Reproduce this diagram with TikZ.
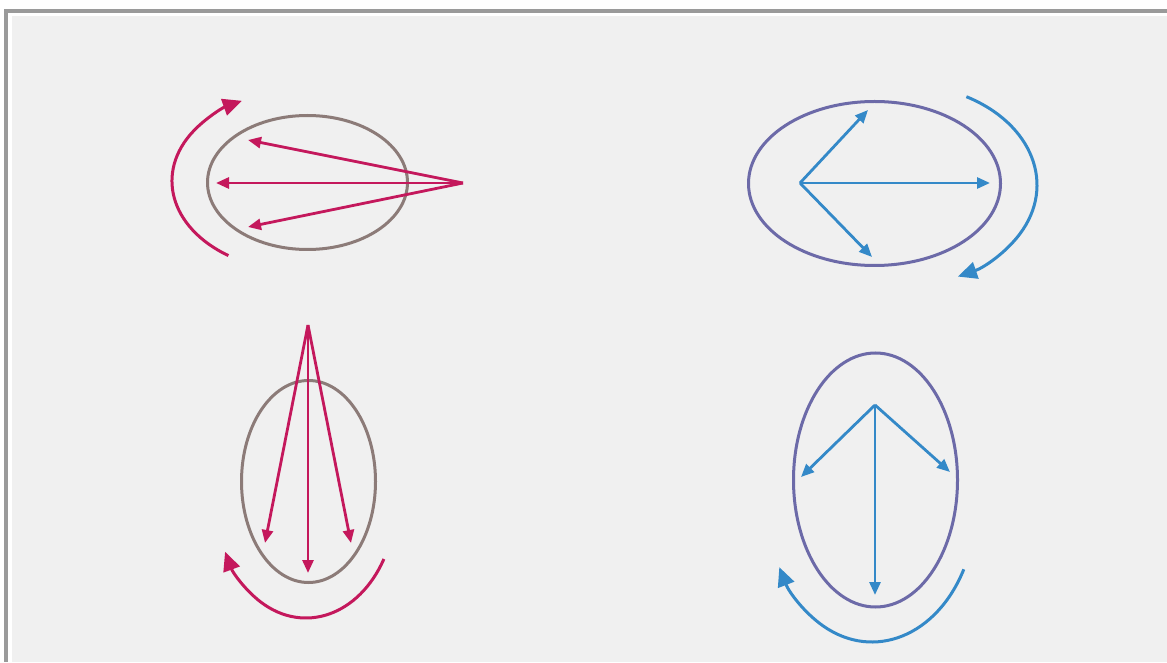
\documentclass[tikz,border=0pt]{standalone}
\usetikzlibrary{arrows.meta}
\definecolor{bgc}{HTML}{F0F0F0}
\definecolor{framec}{HTML}{9A9A9A}
\definecolor{crim}{HTML}{C4185C}
\definecolor{blu}{HTML}{3489C8}
\definecolor{brn}{HTML}{8C7B78}
\definecolor{pur}{HTML}{6C6AA8}
\begin{document}
\begin{tikzpicture}[x=1pt,y=1pt,
  ring/.style={line width=3pt},
  ray/.style={line width=2.8pt,-{Triangle[length=13pt,width=11pt]}},
  turn/.style={line width=3pt,-{Triangle[length=19pt,width=17pt]}}]
\useasboundingbox (0,0) rectangle (1167,662);
\fill[white] (0,0) rectangle (1167,662);
\fill[framec] (4,0) rectangle (1167,653);
\fill[white] (8,0) rectangle (1167,649);
\fill[bgc] (12,0) rectangle (1167,646);
% top-left
\draw[ring,brn] (307.5,479.5) ellipse [x radius=100, y radius=67];
\coordinate (a0) at (463,479);
\coordinate (a1) at (248,522);
\coordinate (a2) at (216,479);
\coordinate (a3) at (248,435);
\foreach \t in {a1,a2,a3} \draw[ray,crim] (a0) -- (\t);
\coordinate (as) at (228.4,406.4);
\draw[turn,crim] (as) arc[start angle=236, end angle=117, x radius=128, y radius=90];
% top-right
\draw[ring,pur] (874.5,478.5) ellipse [x radius=126, y radius=82];
\coordinate (b0) at (800,479);
\coordinate (b1) at (868,552);
\coordinate (b2) at (990,479);
\coordinate (b3) at (872,405);
\foreach \t in {b1,b2,b3} \draw[ray,blu] (b0) -- (\t);
\coordinate (bs) at (966.4,565.3);
\draw[turn,blu] (bs) arc[start angle=61, end angle=-65, x radius=137, y radius=101];
% bottom-left
\draw[ring,brn] (308.5,180.5) ellipse [x radius=67, y radius=101];
\coordinate (c0) at (308,337);
\coordinate (c1) at (265,119);
\coordinate (c2) at (308,89);
\coordinate (c3) at (351,119);
\foreach \t in {c1,c2,c3} \draw[ray,crim] (c0) -- (\t);
\coordinate (cs) at (383.9,103);
\draw[turn,crim] (cs) arc[start angle=-30, end angle=-154, x radius=90, y radius=118];
% bottom-right
\draw[ring,pur] (875.5,182) ellipse [x radius=82, y radius=127];
\coordinate (d0) at (875,257);
\coordinate (d1) at (801,185);
\coordinate (d2) at (950,190);
\coordinate (d3) at (875,67);
\foreach \t in {d1,d2,d3} \draw[ray,blu] (d0) -- (\t);
\coordinate (ds) at (963.8,92.7);
\draw[turn,blu] (ds) arc[start angle=-28, end angle=-153, x radius=104, y radius=137];
\end{tikzpicture}
\end{document}
